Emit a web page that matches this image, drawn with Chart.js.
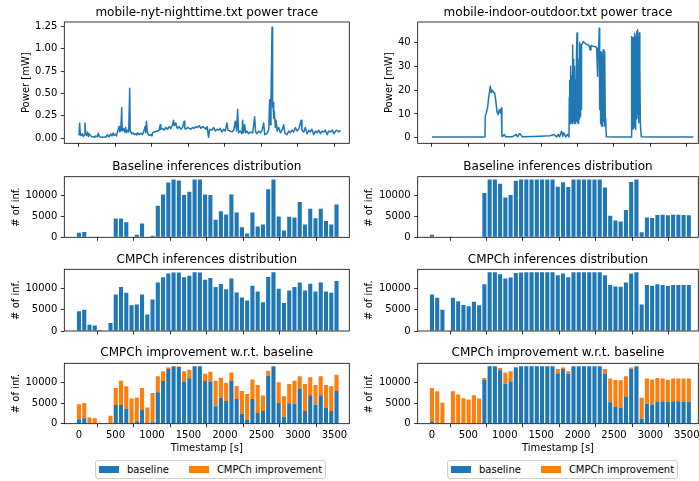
<!DOCTYPE html>
<html>
<head>
<meta charset="utf-8">
<script src="https://cdn.jsdelivr.net/npm/chart.js@4.4.1/dist/chart.umd.min.js"></script>
<style>
  body { margin: 0; background: #fff; }
  #fig { position: relative; width: 699px; height: 481px; background: #fff; font-family: "DejaVu Sans", sans-serif; }
  #fig canvas { position: absolute; }
  .legend { position: absolute; top: 460px; height: 19px; box-sizing: border-box; border: 1px solid #d0d0d0; border-radius: 3px;
            display: flex; align-items: center; padding: 0 3px 0 3px; font-size: 10px; color: #000; background: #fff; }
  .legend .patch { width: 20px; height: 7px; margin-right: 8px; }
  .legend .item { display: flex; align-items: center; margin-right: 20px; white-space: nowrap; }
  .legend .item:last-child { margin-right: 0; }
</style>
</head>
<body>
<div id="fig">
  <canvas id="nytTrace" width="352" height="150" style="left:0;top:0"></canvas>
  <canvas id="ioTrace" width="347" height="150" style="left:352px;top:0"></canvas>
  <canvas id="nytBase" width="352" height="92" style="left:0;top:152px"></canvas>
  <canvas id="ioBase" width="347" height="92" style="left:352px;top:152px"></canvas>
  <canvas id="nytCmp" width="352" height="93" style="left:0;top:245px"></canvas>
  <canvas id="ioCmp" width="347" height="93" style="left:352px;top:245px"></canvas>
  <canvas id="nytImp" width="352" height="120" style="left:0;top:338px"></canvas>
  <canvas id="ioImp" width="347" height="120" style="left:352px;top:338px"></canvas>
  <div class="legend" id="legendL" style="left:95px"></div>
  <div class="legend" id="legendR" style="left:447px"></div>
</div>
<script>
// Start of each 72 s bin [s]
const binStarts = [0, 72, 144, 216, 288, 360, 432, 504, 576, 648, 720, 792, 864, 936, 1008, 1080, 1152, 1224, 1296, 1368,
    1440, 1512, 1584, 1656, 1728, 1800, 1872, 1944, 2016, 2088, 2160, 2232, 2304, 2376, 2448, 2520, 2592, 2664, 2736, 2808,
    2880, 2952, 3024, 3096, 3168, 3240, 3312, 3384, 3456, 3528];

// tick positions
const timeTicks = [0, 500, 1000, 1500, 2000, 2500, 3000, 3500];
const infTicks = [0, 5000, 10000];
const nytPowerTicks = [0, 0.25, 0.5, 0.75, 1.0, 1.25];
const ioPowerTicks = [0, 10, 20, 30, 40];

// mobile-nyt-nighttime.txt
const nytBaseline = [1100, 1300, 0, 0, 0, 0, 0, 4500, 4500, 3600, 0, 600, 3300, 0, 350, 7600, 10300, 13200, 13900, 13700,
    10200, 11000, 13900, 13900, 10300, 10200, 4200, 6250, 5500, 10300, 6000, 2400, 900, 6000, 2600, 3100, 11600, 13900, 5000, 1650,
    4950, 4800, 8500, 3100, 6900, 4600, 6900, 3900, 3100, 7900];
const nytCmpch = [4700, 5000, 1500, 1300, 250, 0, 1900, 8650, 10400, 9050, 6100, 6300, 8650, 3900, 7450, 11450, 12700, 13600, 13850, 13850,
    12700, 13050, 13900, 13850, 12100, 12550, 10400, 11100, 9900, 12400, 9100, 7900, 7200, 10700, 9350, 6800, 12800, 13900, 10000, 6650,
    9600, 10400, 11450, 9600, 11200, 9350, 11450, 9350, 9050, 11850];

// mobile-indoor-outdoor.txt
const ioBaseline = [600, 0, 0, 0, 0, 0, 0, 0, 0, 0, 10700, 13900, 13900, 12900, 9600, 10200, 13600, 13900, 13900, 13900,
    13900, 13900, 13900, 13900, 12200, 13250, 12100, 13900, 13900, 13900, 13900, 13900, 13900, 12000, 5200, 4050, 3800, 6600, 13300, 13900,
    1200, 4800, 4650, 5350, 5450, 5300, 5450, 5450, 5350, 5300];
const ioCmpch = [8650, 7850, 5050, 0, 7850, 7050, 6150, 5850, 6900, 6100, 11050, 13900, 13900, 13450, 12400, 12650, 13700, 13850, 13900, 13900,
    13900, 13900, 13900, 13900, 13200, 13600, 12700, 13900, 13900, 13900, 13900, 13900, 13900, 13200, 10900, 10550, 10500, 11450, 13600, 13900,
    6250, 10900, 10700, 11050, 10900, 10650, 10900, 10900, 10900, 10900];

// Power traces: time [s] and power [mW]
const nytTime = [0, 9, 18, 30, 45, 60, 75, 82, 92, 105, 118, 130, 142, 155, 170, 183, 200, 215, 230, 252,
    265, 279, 297, 320, 343, 366, 389, 400, 412, 435, 450, 470, 480, 503, 515, 526, 540, 549, 560, 572,
    586, 592, 609, 627, 640, 650, 663, 681, 695, 702, 720, 740, 755, 778, 790, 801, 824, 846, 869, 885,
    892, 906, 915, 924, 935, 950, 961, 984, 1000, 1007, 1029, 1052, 1075, 1098, 1112, 1121, 1144, 1167, 1190, 1212,
    1235, 1258, 1281, 1295, 1304, 1327, 1340, 1350, 1373, 1395, 1418, 1441, 1450, 1464, 1487, 1510, 1533, 1555, 1578, 1601,
    1624, 1647, 1670, 1693, 1716, 1738, 1755, 1775, 1790, 1821, 1845, 1867, 1890, 1912, 1935, 1958, 1980, 2004, 2027, 2040,
    2070, 2095, 2120, 2141, 2160, 2173, 2187, 2210, 2233, 2242, 2255, 2269, 2285, 2301, 2325, 2347, 2380, 2406, 2420, 2438,
    2460, 2484, 2510, 2530, 2545, 2575, 2600, 2612, 2622, 2630, 2645, 2652, 2658, 2668, 2676, 2690, 2699, 2715, 2736, 2760,
    2781, 2804, 2820, 2850, 2873, 2896, 2920, 2941, 2965, 2987, 3010, 3042, 3055, 3079, 3100, 3125, 3150, 3170, 3190, 3216,
    3240, 3262, 3285, 3308, 3330, 3353, 3375, 3399, 3420, 3445, 3470, 3491, 3515, 3536, 3560, 3582];
const nytPower = [0.03, 0.17, 0.04, 0.03, 0.05, 0.02, 0.04, 0.17, 0.05, 0.03, 0.07, 0.02, 0.05, 0.03, 0.02, 0.015, 0.02, 0.01, 0.025, 0.015,
    0.055, 0.02, 0.01, 0.01, 0.015, 0.01, 0.04, 0.02, 0.015, 0.05, 0.025, 0.06, 0.03, 0.045, 0.025, 0.07, 0.10, 0.13, 0.07, 0.09,
    0.34, 0.08, 0.11, 0.07, 0.12, 0.06, 0.09, 0.07, 0.56, 0.09, 0.05, 0.06, 0.04, 0.05, 0.035, 0.06, 0.04, 0.055, 0.04, 0.07,
    0.09, 0.13, 0.06, 0.19, 0.08, 0.04, 0.03, 0.04, 0.025, 0.06, 0.07, 0.075, 0.08, 0.09, 0.15, 0.10, 0.11, 0.09, 0.12, 0.10,
    0.13, 0.11, 0.15, 0.20, 0.14, 0.17, 0.12, 0.11, 0.13, 0.10, 0.12, 0.19, 0.11, 0.10, 0.12, 0.11, 0.10, 0.12, 0.11, 0.13,
    0.12, 0.14, 0.11, 0.13, 0.12, 0.10, 0.13, 0.01, 0.10, 0.09, 0.12, 0.08, 0.10, 0.09, 0.11, 0.07, 0.10, 0.08, 0.17, 0.09,
    0.08, 0.07, 0.09, 0.19, 0.08, 0.32, 0.06, 0.08, 0.05, 0.20, 0.06, 0.15, 0.06, 0.08, 0.05, 0.07, 0.06, 0.24, 0.07, 0.05,
    0.08, 0.06, 0.09, 0.17, 0.04, 0.05, 0.10, 0.43, 0.15, 0.42, 1.24, 0.35, 0.40, 0.22, 0.30, 0.12, 0.20, 0.08, 0.12, 0.06,
    0.09, 0.15, 0.06, 0.04, 0.08, 0.06, 0.09, 0.07, 0.12, 0.08, 0.10, 0.20, 0.09, 0.07, 0.12, 0.05, 0.09, 0.07, 0.10, 0.04,
    0.08, 0.06, 0.09, 0.05, 0.08, 0.07, 0.09, 0.04, 0.08, 0.07, 0.09, 0.05, 0.08, 0.09, 0.07, 0.09];

const ioTime = [
    0, 300, 600, 728, 732, 746, 765, 779, 792, 801, 815, 829, 847, 861, 875, 893, 907, 925, 938, 952,
    960, 966, 994, 1012, 1100, 1158, 1175, 1204, 1222, 1241, 1400, 1625, 1671, 1690, 1712, 1735, 1750, 1781, 1795, 1810,
    1836, 1859, 1882,
    1886, 1889, 1893, 1896, 1900, 1903, 1906, 1909, 1912, 1915, 1918, 1922, 1925, 1928, 1931, 1934, 1937, 1940, 1943, 1946,
    1949, 1952, 1955, 1958, 1961, 1964, 1967, 1970, 1973, 1976, 1979, 1982, 1985, 1988, 1992, 1995, 1998, 2001, 2004, 2007,
    2010, 2013, 2016, 2019, 2022, 2025, 2028, 2031, 2034, 2037, 2040, 2043, 2046, 2049, 2052, 2056,
    2066, 2078, 2100, 2120, 2147, 2160, 2174, 2184, 2200, 2216, 2240, 2261, 2275, 2282, 2290, 2298, 2302, 2305, 2310, 2317,
    2322, 2326, 2330, 2336, 2342, 2347, 2353, 2357, 2360, 2364, 2368, 2372, 2376, 2381, 2385, 2390, 2395,
    2500, 2734, 2738, 2741, 2744, 2747, 2750, 2753, 2756, 2759, 2762, 2765, 2768, 2771, 2774, 2777, 2780, 2783, 2788, 2791,
    2794, 2797, 2802, 2806, 2812, 2818, 2822, 2828, 2832, 2836, 2842, 2848, 2855, 2862, 2875, 3000, 3300, 3590];
const ioPower = [
    0.3, 0.3, 0.3, 0.3, 9, 10.4, 13, 17, 19.5, 21.6, 19, 20, 19, 18.8, 16, 11, 9.7, 11.8, 10.5, 12.5,
    1.0, 0.5, 1.4, 0.4, 0.4, 1.4, 0.4, 1.8, 1.2, 0.4, 0.6, 0.9, 1.4, 1.0, 0.4, 1.4, 0.4, 2.8, 0.6, 2.1,
    0.4, 1.4, 0.4,
    17, 6, 24, 8, 28, 6, 18, 30, 7, 26, 9, 20, 6, 39, 8, 27, 6, 22, 10, 33,
    7, 25, 6, 29, 9, 30, 6, 24, 8, 21, 7, 31, 9, 35, 44, 7, 28, 8, 29, 6,
    26, 11, 24, 7, 33, 8, 40, 10, 32, 15, 39, 9, 30, 12, 38, 39,
    39.5, 40.4, 39.8, 39.2, 39, 38.5, 36.8, 38.7, 38.6, 38.4, 38.2, 38, 25.8, 37.6, 38, 46, 12, 30, 35, 6,
    36, 8, 5, 21, 5, 30, 37, 7, 14.6, 33, 5, 20, 36.2, 6, 8, 5, 0.4,
    0.3, 0.3, 42.5, 5, 38, 4.8, 41, 6, 40, 3.5, 42, 5, 39, 4, 40.4, 6, 41, 4.8, 43.9, 5,
    40, 3.5, 42.5, 8, 44.6, 40, 10, 45.3, 15, 42.5, 6.3, 44, 30, 6, 0.4, 0.3, 0.3, 0.3];

const BLUE = '#1f77b4';
const ORANGE = '#ff7f0e';

Chart.defaults.font.family = '"DejaVu Sans", sans-serif';
Chart.defaults.font.size = 10;
Chart.defaults.color = '#000';
Chart.defaults.animation = false;

// matplotlib-style box around the axes
const frame = {
    id: 'frame',
    afterDraw(chart) {
        const { ctx, chartArea: a } = chart;
        ctx.save();
        ctx.strokeStyle = '#000';
        ctx.lineWidth = 0.8;
        ctx.strokeRect(a.left, a.top, a.right - a.left, a.bottom - a.top);
        ctx.restore();
    }
};

const columns = {
    L: { xmin: -201, xmax: 3703, yWidth: 64.3, padRight: 2.7, powerPad: 20, infPad: 10.7 },
    R: { xmin: -196, xmax: 3658, yWidth: 65.7, padRight: 0.7, powerPad: 31, infPad: 11.5 }
};
const rows = {
    trace: { title: [5.5, 2.1], xHeight: 6.7 },
    base:  { title: [7.5, 2.8], xHeight: 6.7 },
    cmp:   { title: [7.8, 2.1], xHeight: 7 },
    imp:   { title: [8.1, 2.8], xHeight: 34.3 }
};

function fixWidth(w) {
    return s => { s.width = w; s.paddingTop = s.paddingBottom = s.paddingLeft = s.paddingRight = 0; };
}
function fixHeight(h) {
    return s => { s.height = h; s.paddingTop = s.paddingBottom = s.paddingLeft = s.paddingRight = 0; };
}
function useTicks(values) {
    return s => { s.ticks = values.map(v => ({ value: v })); };
}

function xAxis(col, row, withLabels) {
    return {
        type: 'linear', min: col.xmin, max: col.xmax, offset: false, stacked: true,
        afterBuildTicks: useTicks(timeTicks),
        afterFit: fixHeight(row.xHeight),
        border: { display: false },
        grid: { drawOnChartArea: false, tickLength: 3.5, tickColor: '#000', tickWidth: 0.8 },
        ticks: { display: withLabels, padding: 2, maxRotation: 0, autoSkip: false, callback: v => String(v) },
        title: { display: withLabels, text: 'Timestamp [s]', padding: { top: 0, bottom: 4 } }
    };
}

function yAxis(col, opts) {
    return {
        min: opts.min, max: opts.max, stacked: !!opts.stacked,
        afterBuildTicks: useTicks(opts.ticks),
        afterFit: fixWidth(col.yWidth),
        border: { display: false },
        grid: { drawOnChartArea: false, tickLength: 3.5, tickColor: '#000', tickWidth: 0.8 },
        ticks: { padding: 3.5, autoSkip: false,
                 callback: v => opts.decimals ? v.toFixed(opts.decimals) : String(Math.round(v)) },
        title: { display: true, text: opts.label, padding: { top: opts.labelPad, bottom: 0 } }
    };
}

function makeChart(id, col, row, title, datasets, y, xLabels, type) {
    return new Chart(document.getElementById(id), {
        type: type,
        data: { datasets },
        options: {
            responsive: false,
            layout: { padding: { left: 0, right: col.padRight, top: 0, bottom: 0 } },
            plugins: {
                legend: { display: false },
                tooltip: { enabled: false },
                title: { display: true, fullSize: false, text: title, font: { size: 12, weight: 'normal' }, color: '#000',
                         padding: { top: row.title[0], bottom: row.title[1] } }
            },
            scales: { x: xAxis(col, row, xLabels), y: yAxis(col, y) }
        },
        plugins: [frame]
    });
}

function points(xs, ys) {
    return xs.map((x, i) => ({ x, y: ys[i] }));
}

function traceSet(xs, ys) {
    return [{ data: points(xs, ys), borderColor: BLUE, borderWidth: 1.5, pointRadius: 0, tension: 0,
              borderJoinStyle: 'round', fill: false }];
}

function barSet(label, values, color) {
    return { label, data: points(binStarts, values), backgroundColor: color, borderWidth: 0,
             categoryPercentage: 1, barPercentage: 0.78 };
}

function drawColumn(key, names, titleFile, power, powerAxis, baseline, cmpch) {
    const col = columns[key];
    const improvement = cmpch.map((v, i) => Math.max(0, v - baseline[i]));
    const infAxis = { min: 0, max: 14600, ticks: infTicks, label: '# of inf.', labelPad: col.infPad };

    makeChart(names[0], col, rows.trace, titleFile + ' power trace', traceSet(power[0], power[1]),
        Object.assign({ label: 'Power [mW]', labelPad: col.powerPad }, powerAxis), false, 'line');
    makeChart(names[1], col, rows.base, 'Baseline inferences distribution',
        [barSet('baseline', baseline, BLUE)], infAxis, false, 'bar');
    makeChart(names[2], col, rows.cmp, 'CMPCh inferences distribution',
        [barSet('CMPCh', cmpch, BLUE)], infAxis, false, 'bar');

    const impSets = [barSet('baseline', baseline, BLUE), barSet('CMPCh improvement', improvement, ORANGE)];
    makeChart(names[3], col, rows.imp, 'CMPCh improvement w.r.t. baseline', impSets,
        Object.assign({ stacked: true }, infAxis), true, 'bar');
    buildLegend(names[4], impSets);
}

function buildLegend(id, sets) {
    const box = document.getElementById(id);
    sets.forEach(ds => {
        const item = document.createElement('div');
        item.className = 'item';
        item.innerHTML = `<span class="patch" style="background:${ds.backgroundColor}"></span><span>${ds.label}</span>`;
        box.appendChild(item);
    });
}

drawColumn('L', ['nytTrace', 'nytBase', 'nytCmp', 'nytImp', 'legendL'], 'mobile-nyt-nighttime.txt',
    [nytTime, nytPower], { min: -0.057, max: 1.30, ticks: nytPowerTicks, decimals: 2 }, nytBaseline, nytCmpch);
drawColumn('R', ['ioTrace', 'ioBase', 'ioCmp', 'ioImp', 'legendR'], 'mobile-indoor-outdoor.txt',
    [ioTime, ioPower], { min: -2.3, max: 48.6, ticks: ioPowerTicks, decimals: 0 }, ioBaseline, ioCmpch);
</script>
</body>
</html>
